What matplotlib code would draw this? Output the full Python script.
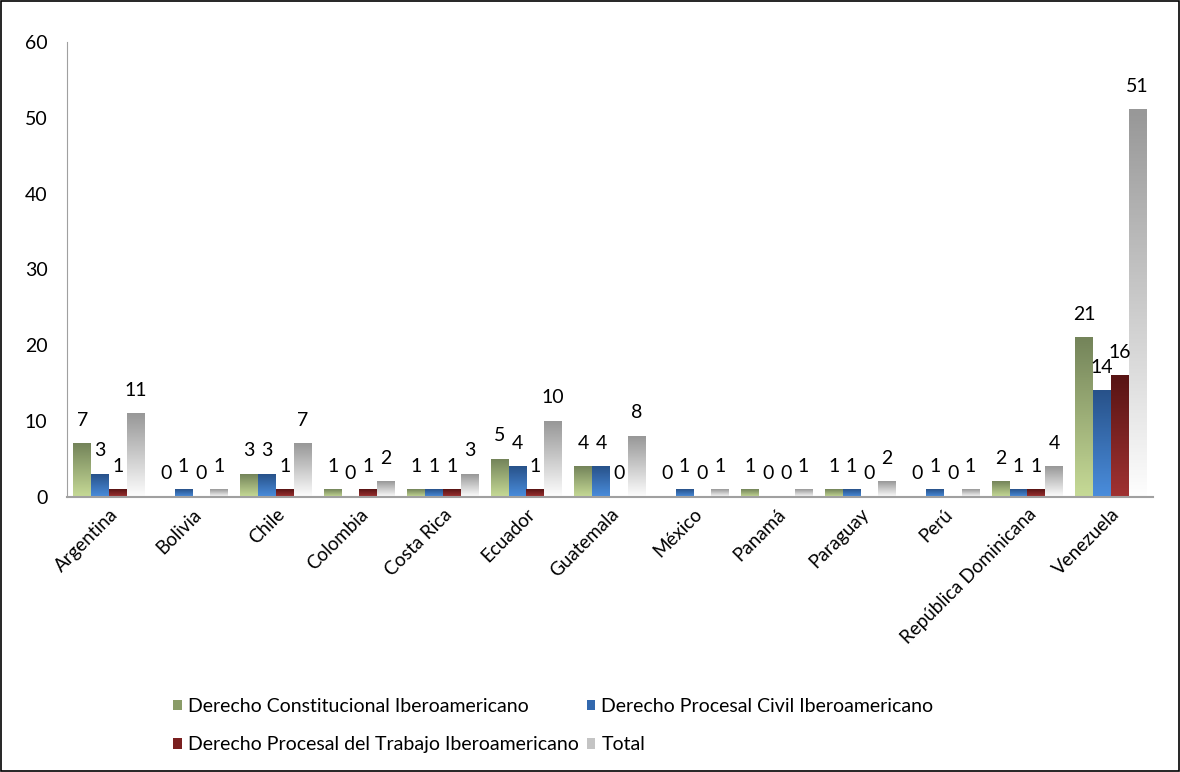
import numpy as np
import matplotlib.pyplot as plt
from matplotlib.colors import LinearSegmentedColormap
from matplotlib.patches import Patch, Rectangle

# data
countries = ["Argentina", "Bolivia", "Chile", "Colombia", "Costa Rica", "Ecuador",
             "Guatemala", "México", "Panamá", "Paraguay", "Perú",
             "República Dominicana", "Venezuela"]
constitucional = [7, 0, 3, 1, 1, 5, 4, 0, 1, 1, 0, 2, 21]
procesal_civil = [3, 1, 3, 0, 1, 4, 4, 1, 0, 1, 1, 1, 14]
procesal_trabajo = [1, 0, 1, 1, 1, 1, 0, 0, 0, 0, 0, 1, 16]
total = [11, 1, 7, 2, 3, 10, 8, 1, 1, 2, 1, 4, 51]

series_names = ["Derecho Constitucional Iberoamericano",
                "Derecho Procesal Civil Iberoamericano",
                "Derecho Procesal del Trabajo Iberoamericano",
                "Total"]
series = [constitucional, procesal_civil, procesal_trabajo, total]

# gradient colours: (bottom, top)
gradients = [("#c6da96", "#74845a"),
             ("#4a8ddc", "#28528a"),
             ("#a03232", "#581414"),
             ("#fdfdfd", "#989898")]
legend_colors = ["#8a9c68", "#3268ae", "#7a2020", "#c4c4c4"]

plt.rcParams['font.family'] = ['Lato', 'DejaVu Sans']

fig = plt.figure(figsize=(11.8, 7.72), dpi=100)
ax = fig.add_axes([0.0568, 0.356, 0.920, 0.590])

n = len(countries)
x = np.arange(n)
bw = 0.2126
offsets = (np.arange(4) - 1.5) * bw

for s, vals in enumerate(series):
    cmap = LinearSegmentedColormap.from_list(f"g{s}", gradients[s])
    grad = np.linspace(1, 0, 64).reshape(-1, 1)
    for i, v in enumerate(vals):
        xc = x[i] + offsets[s]
        if v > 0:
            ax.imshow(grad, cmap=cmap, extent=[xc - bw / 2, xc + bw / 2, 0, v],
                      aspect='auto', origin='upper', zorder=2, interpolation='bilinear')
        ax.text(xc, v + 3.1, str(v), ha='center', va='center', fontsize=14, color='black')

ax.set_xlim(-0.5, n - 0.5)
ax.set_ylim(0, 60)
ax.set_yticks(range(0, 61, 10))
ax.set_xticks(x)
ax.set_xticklabels(countries, rotation=45, ha='right', rotation_mode='anchor', fontsize=13.5)
ax.tick_params(axis='y', labelsize=14, length=0, pad=14)
ax.tick_params(axis='x', length=0, pad=6)

for side in ['top', 'right']:
    ax.spines[side].set_visible(False)
ax.spines['left'].set_color('#a0a0a0')
ax.spines['bottom'].set_color('#a0a0a0')
ax.spines['bottom'].set_linewidth(1.5)

# legend is filled row by row in the reference
order = [0, 2, 1, 3]
handles = [Patch(facecolor=legend_colors[k], edgecolor='none') for k in order]
labels = [series_names[k] for k in order]
fig.legend(handles, labels, loc='lower left', bbox_to_anchor=(0.147, 0.024),
           ncol=2, frameon=False, fontsize=14, handlelength=0.45, handleheight=0.45,
           handletextpad=0.3, columnspacing=0.4, labelspacing=1.1,
           borderpad=0, borderaxespad=0)

# outer frame of the chart
fig.patches.append(Rectangle((0.001, 0.001), 0.998, 0.998, transform=fig.transFigure,
                             fill=False, edgecolor='black', linewidth=1.2))

fig.savefig("out.png", dpi=100)
